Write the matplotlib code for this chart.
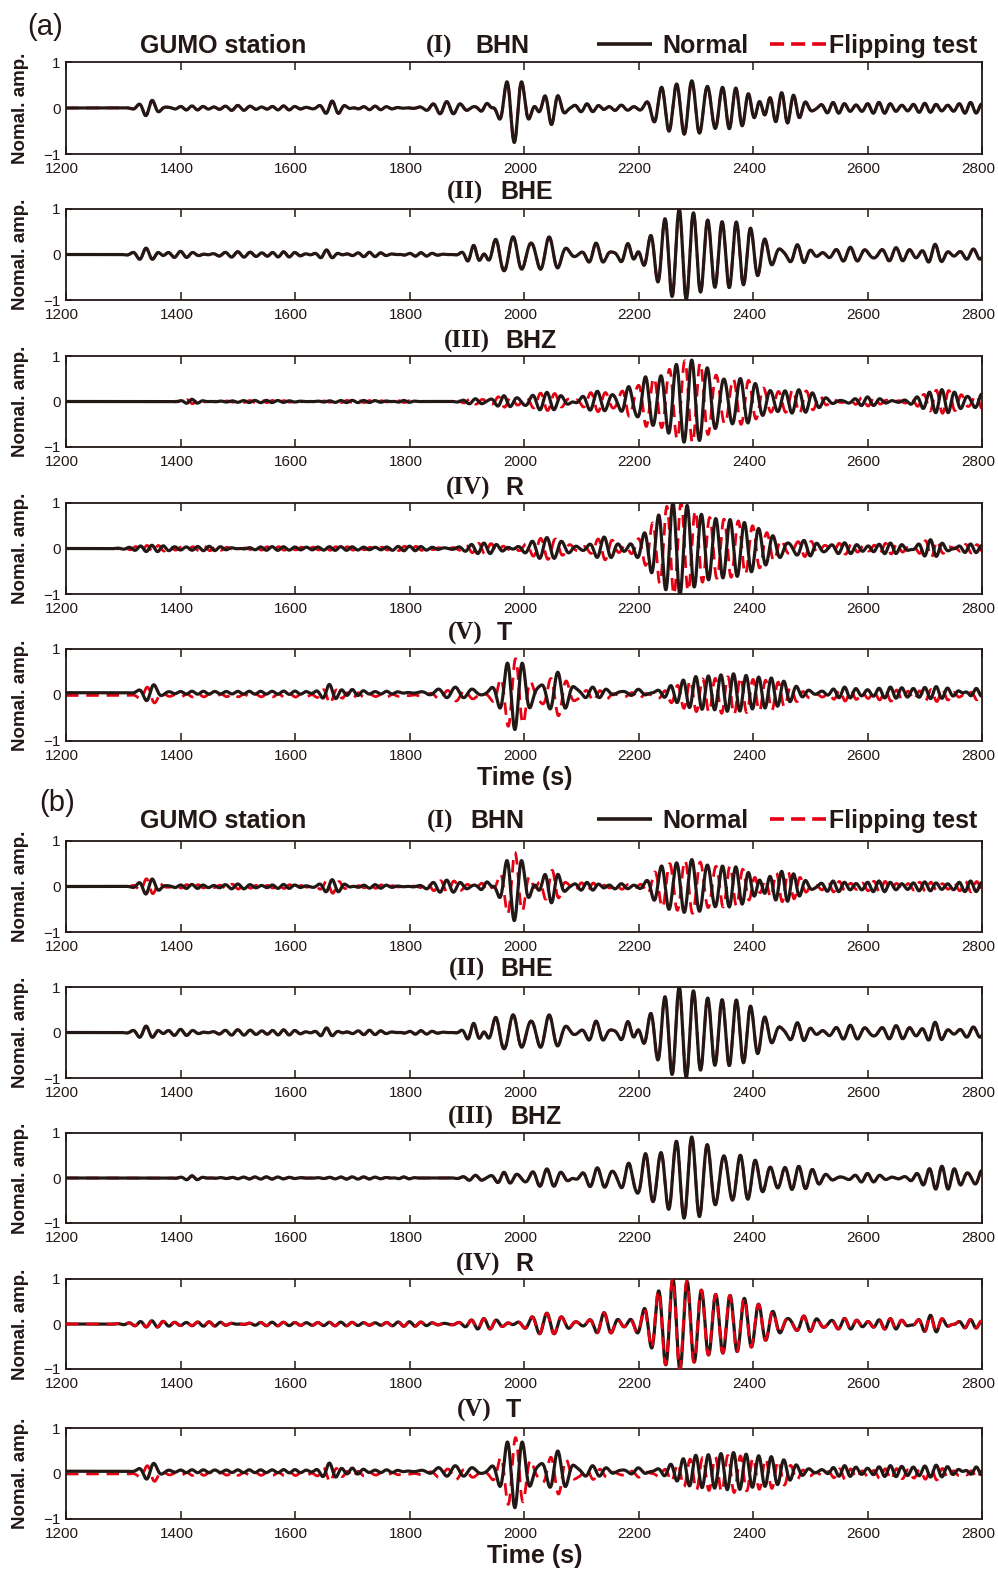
import numpy as np
import matplotlib

matplotlib.use("Agg")
import matplotlib.pyplot as plt
from matplotlib.transforms import ScaledTranslation

W, H = 998, 1572
SANS = "Liberation Sans"
SERIF = "Liberation Serif"
BLACK = "#231815"
RED = "#e60012"

TIME_START, TIME_END = 1200, 2800
XTICKS = [1200, 1400, 1600, 1800, 2000, 2200, 2400, 2600, 2800]
YTICKS = [-1, 0, 1]
COMPONENTS = ["BHN", "BHE", "BHZ", "R", "T"]
NUMERALS = ["(I)", "(II)", "(III)", "(IV)", "(V)"]

# wave packets:
# (centre s, half-width s, amplitude, period s, phase / pi)
BHN_PACKETS = [
    (1345, 20, 0.18, 24, 1.5),
    (1420, 35, 0.045, 20, 0),
    (1500, 35, 0.055, 22, 0),
    (1580, 35, 0.045, 20, 0),
    (1665, 22, 0.15, 23, 0),
    (1740, 35, 0.04, 20, 0),
    (1865, 35, 0.14, 24, 0),
    (1935, 14, 0.10, 22, 0),
    (1983, 25, 0.75, 27, 1),
    (2048, 22, 0.36, 24, 1),
    (2110, 30, 0.09, 21, 0),
    (2170, 25, 0.06, 24, 0),
    (2240, 25, 0.30, 26.5, 0),
    (2293, 45, 0.60, 26.5, 0),
    (2370, 45, 0.40, 23, 0),
    (2450, 45, 0.35, 21, 0),
    (2540, 35, 0.12, 20, 0),
    (2620, 35, 0.12, 20, 0),
    (2700, 35, 0.10, 20, 0),
    (2780, 35, 0.12, 20, 0),
]
BHE_PACKETS = [
    (1340, 22, 0.14, 24, 0),
    (1400, 35, 0.07, 22, 0),
    (1500, 45, 0.06, 22, 0),
    (1580, 35, 0.06, 20, 0),
    (1655, 18, 0.10, 22, 0),
    (1730, 35, 0.05, 20, 0),
    (1820, 30, 0.04, 20, 0),
    (1912, 18, 0.20, 22, 0),
    (1950, 15, 0.20, 28, 0),
    (1981, 30, 0.38, 31, 0),
    (2044, 30, 0.38, 31, 0),
    (2126, 20, 0.25, 27, 0),
    (2182, 18, 0.30, 26, 0),
    (2271, 55, 0.95, 25, 0),
    (2371, 60, 0.68, 25, 0),
    (2478, 25, 0.22, 24, 0),
    (2570, 40, 0.16, 25, 0),
    (2650, 40, 0.15, 24, 0),
    (2718, 20, 0.22, 25, 0),
    (2785, 30, 0.12, 24, 0),
]
BHZ_PACKETS = [
    (1420, 20, 0.05, 20, 0),
    (1550, 80, 0.025, 20, 0),
    (1700, 80, 0.025, 20, 0),
    (1790, 20, 0.03, 20, 0),
    (1915, 25, 0.06, 22, 0),
    (1965, 25, 0.12, 22, 0),
    (2040, 40, 0.20, 25, 0),
    (2128, 35, 0.22, 26, 0),
    (2182, 15, 0.22, 25, 0),
    (2212, 15, 0.25, 27, 0),
    (2293, 75, 0.93, 27, 0),
    (2380, 50, 0.40, 25, 0),
    (2480, 45, 0.25, 24, 0),
    (2600, 30, 0.10, 22, 0),
    (2730, 45, 0.26, 22, 0),
    (2800, 20, 0.15, 22, 0),
]
R_PACKETS = [
    (1350, 40, 0.07, 20, 0),
    (1450, 50, 0.05, 20, 0),
    (1560, 60, 0.04, 20, 0),
    (1680, 60, 0.04, 20, 0),
    (1800, 50, 0.05, 20, 0),
    (1930, 40, 0.12, 22, 0),
    (2040, 40, 0.24, 26, 0),
    (2140, 25, 0.25, 26, 0),
    (2260, 50, 0.85, 25, 0),
    (2360, 85, 0.62, 25, 0),
    (2490, 30, 0.15, 22, 0),
    (2560, 30, 0.12, 22, 0),
    (2640, 40, 0.12, 20, 0),
    (2710, 30, 0.20, 21, 0),
    (2780, 30, 0.10, 20, 0),
]
T_PACKETS = [
    (1347, 18, 0.20, 28, -0.5),
    (1420, 50, 0.03, 20, 0),
    (1520, 60, 0.03, 20, 0),
    (1600, 40, 0.03, 20, 0),
    (1660, 18, 0.17, 25, 0),
    (1700, 25, 0.07, 20, 0),
    (1760, 30, 0.03, 20, 0),
    (1880, 45, 0.12, 30, 0),
    (1984, 28, 0.80, 27, 1),
    (2059, 28, 0.45, 28, 0),
    (2120, 35, 0.12, 24, 0),
    (2200, 25, 0.08, 26, 0),
    (2300, 50, 0.33, 22, 0),
    (2366, 40, 0.30, 22, 0),
    (2432, 50, 0.30, 22, 0),
    (2560, 30, 0.12, 20, 0),
    (2640, 40, 0.12, 20, 0),
    (2720, 40, 0.13, 20, 0),
    (2790, 20, 0.10, 20, 0),
]
PACKETS = {
    "BHN": BHN_PACKETS,
    "BHE": BHE_PACKETS,
    "BHZ": BHZ_PACKETS,
    "R": R_PACKETS,
    "T": T_PACKETS,
}
BASELINE = {"T": 0.05}
FLIP_BASELINE = {"T": -0.01}

# phase shift of the flipping-test trace (/ pi), per panel
FLIP_SHIFT_A = [0.0, 0.0, 0.9, 0.85, 0.9]
FLIP_SHIFT_B = [0.9, 0.0, 0.0, 0.04, 0.9]
RED_ON_TOP_B = [False, False, False, True, False]

# layout (pixels)
AX_LEFT, AX_RIGHT = 66, 982
TOPS_A = [62, 209, 356, 503, 649]
BOTTOMS_A = [154, 300, 447, 594, 741]
TOPS_B = [841, 987, 1133, 1279, 1428]
BOTTOMS_B = [932, 1078, 1223, 1369, 1519]
# (numeral right edge, name left edge, text y)
TITLES_A = [(452, 475, 46), (483, 500, 192), (490, 505, 341), (490, 505, 488), (483, 497, 633)]
TITLES_B = [(453, 470, 821), (485, 500, 969), (494, 510, 1117), (500, 515, 1264), (492, 506, 1410)]
HEAD_SIZE = 18


def synth(t, packets, shift=0.0, base=0.0):
    y = np.full_like(t, base)
    for c, w, a, period, phase in packets:
        y += a * np.exp(-(((t - c) / w) ** 2)) * np.cos(
            2 * np.pi * (t - c) / period + np.pi * (phase + shift)
        )
    return y


def rect(top, bottom):
    return [AX_LEFT / W, 1 - bottom / H, (AX_RIGHT - AX_LEFT) / W, (bottom - top) / H]


def draw_panel(fig, top, bottom, comp, shift, red_on_top):
    ax = fig.add_axes(rect(top, bottom))
    t = np.linspace(TIME_START, TIME_END, 3201)
    base = BASELINE.get(comp, 0.0)
    black = synth(t, PACKETS[comp], 0.0, base)
    red = synth(t, PACKETS[comp], shift, FLIP_BASELINE.get(comp, base) if shift else base)
    ax.plot(t, red, color=RED, lw=2.0, dashes=(4.5, 2.8), zorder=4 if red_on_top else 2)
    ax.plot(t, black, color=BLACK, lw=2.3, zorder=3)
    ax.set_xlim(TIME_START, TIME_END)
    ax.set_ylim(-1, 1)
    ax.set_xticks(XTICKS)
    ax.set_yticks(YTICKS)
    ax.tick_params(direction="in", top=True, right=False, length=6, width=1.1,
                   colors=BLACK, labelsize=11, pad=5.5)
    ax.tick_params(axis="y", length=4, pad=4)
    shift_left = ScaledTranslation(-4 / 100, 0, fig.dpi_scale_trans)
    for lab in ax.get_xticklabels():
        lab.set_family(SANS)
        lab.set_transform(lab.get_transform() + shift_left)
    for lab in ax.get_yticklabels():
        lab.set_family(SANS)
    for sp in ax.spines.values():
        sp.set_linewidth(1.3)
        sp.set_color(BLACK)
    ax.set_ylabel("Nomal. amp.", fontsize=13.5, fontweight="bold", family=SANS,
                  color=BLACK, va="center")
    ax.yaxis.set_label_coords((21 - AX_LEFT) / (AX_RIGHT - AX_LEFT), 0.5)
    return ax


def header(ov, y, label, label_xy):
    ov.text(label_xy[0], label_xy[1], label, fontsize=21, family=SANS, color=BLACK,
            ha="left", va="center")
    ov.text(140, y, "GUMO station", fontsize=HEAD_SIZE, fontweight="bold", family=SANS,
            color=BLACK, ha="left", va="center")
    ly = y - 2
    ov.plot([597, 652], [ly, ly], color=BLACK, lw=2.6, solid_capstyle="butt")
    ov.text(662, y, "Normal", fontsize=HEAD_SIZE, fontweight="bold", family=SANS,
            color=BLACK, ha="left", va="center")
    ov.plot([770, 826], [ly, ly], color=RED, lw=2.6, dashes=(3.9, 1.94))
    ov.text(829, y, "Flipping test", fontsize=HEAD_SIZE, fontweight="bold", family=SANS,
            color=BLACK, ha="left", va="center")


def titles(ov, specs):
    for (xr, xl, y), num, comp in zip(specs, NUMERALS, COMPONENTS):
        ov.text(xr, y, num, fontsize=HEAD_SIZE, fontweight="bold", family=SERIF,
                color=BLACK, ha="right", va="center")
        ov.text(xl, y, comp, fontsize=HEAD_SIZE, fontweight="bold", family=SANS,
                color=BLACK, ha="left", va="center")


def main():
    fig = plt.figure(figsize=(W / 100, H / 100), dpi=100)

    for i, comp in enumerate(COMPONENTS):
        draw_panel(fig, TOPS_A[i], BOTTOMS_A[i], comp, FLIP_SHIFT_A[i], False)
        draw_panel(fig, TOPS_B[i], BOTTOMS_B[i], comp, FLIP_SHIFT_B[i], RED_ON_TOP_B[i])

    ov = fig.add_axes([0, 0, 1, 1])
    ov.set_xlim(0, W)
    ov.set_ylim(H, 0)
    ov.axis("off")

    header(ov, 46, "(a)", (27, 27))
    header(ov, 821, "(b)", (39, 803))
    titles(ov, TITLES_A)
    titles(ov, TITLES_B)
    ov.text(525, 778, "Time (s)", fontsize=HEAD_SIZE, fontweight="bold", family=SANS,
            color=BLACK, ha="center", va="center")
    ov.text(535, 1556, "Time (s)", fontsize=HEAD_SIZE, fontweight="bold", family=SANS,
            color=BLACK, ha="center", va="center")

    fig.savefig("out.png", dpi=100)
    plt.close(fig)


if __name__ == "__main__":
    main()
